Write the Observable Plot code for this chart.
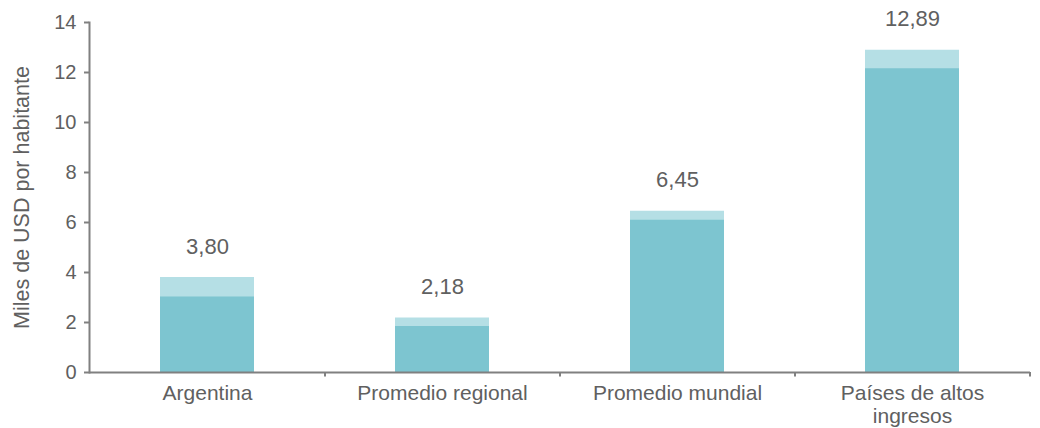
<!DOCTYPE html>
<html>
<head>
<meta charset="utf-8">
<script src="https://cdn.jsdelivr.net/npm/d3@7"></script>
<script src="https://cdn.jsdelivr.net/npm/@observablehq/plot@0.6"></script>
<style>
  body { margin: 0; background: #fff; }
  #chart svg { font-family: "Liberation Sans", Arial, sans-serif; }
</style>
</head>
<body>
<div id="chart"></div>
<script>
const categories = ["Argentina", "Promedio regional", "Promedio mundial", "Países de altos ingresos"];
const tickLabels = ["Argentina", "Promedio regional", "Promedio mundial", "Países de altos\ningresos"];
const totals = [3.80, 2.18, 6.45, 12.89];
const baseValues = [3.02, 1.84, 6.09, 12.15];
const yTicks = [0, 2, 4, 6, 8, 10, 12, 14];
const yLabel = "Miles de USD por habitante";

const data = categories.map((c, i) => ({cat: c, total: totals[i], base: baseValues[i]}));
const labelOf = new Map(categories.map((c, i) => [c, tickLabels[i]]));

const textColor = "#606060";
const axisColor = "#808080";

const chart = Plot.plot({
  width: 1040,
  height: 428,
  marginLeft: 89,
  marginRight: 10,
  marginTop: 22,
  marginBottom: 56,
  style: {fontSize: "20px", color: textColor, background: "#fff"},
  x: {domain: categories, paddingInner: 0.6, paddingOuter: 0.3},
  y: {domain: [0, 14]},
  marks: [
    Plot.barY(data, {x: "cat", y: "total", fill: "#b5dfe5"}),
    Plot.barY(data, {x: "cat", y: "base", fill: "#7dc5d0"}),
    Plot.text(data, {x: "cat", y: "total", text: d => d.total.toFixed(2).replace(".", ","), lineAnchor: "bottom", dy: -24, fill: textColor, fontSize: 22}),
    Plot.axisY({ticks: yTicks, tickSize: 5, tickPadding: 8, stroke: axisColor, strokeWidth: 2, fill: textColor, label: null, fontSize: 20}),
    Plot.axisX({tickSize: 0, tickPadding: 12, tickFormat: d => labelOf.get(d), label: null, fill: textColor, fontSize: 21, lineHeight: 1.07}),
    Plot.ruleY([0], {stroke: axisColor, strokeWidth: 2}),
    Plot.ruleX(categories, {x: d => d, y1: 0, y2: -0.18, dx: 117.5, stroke: axisColor, strokeWidth: 2}),
    Plot.frame({anchor: "left", stroke: axisColor, strokeWidth: 2}),
    Plot.text([yLabel], {frameAnchor: "left", textAnchor: "middle", text: d => d, rotate: -90, dx: -67, fill: textColor, fontSize: 21.5})
  ]
});
document.getElementById("chart").appendChild(chart);
</script>
</body>
</html>
